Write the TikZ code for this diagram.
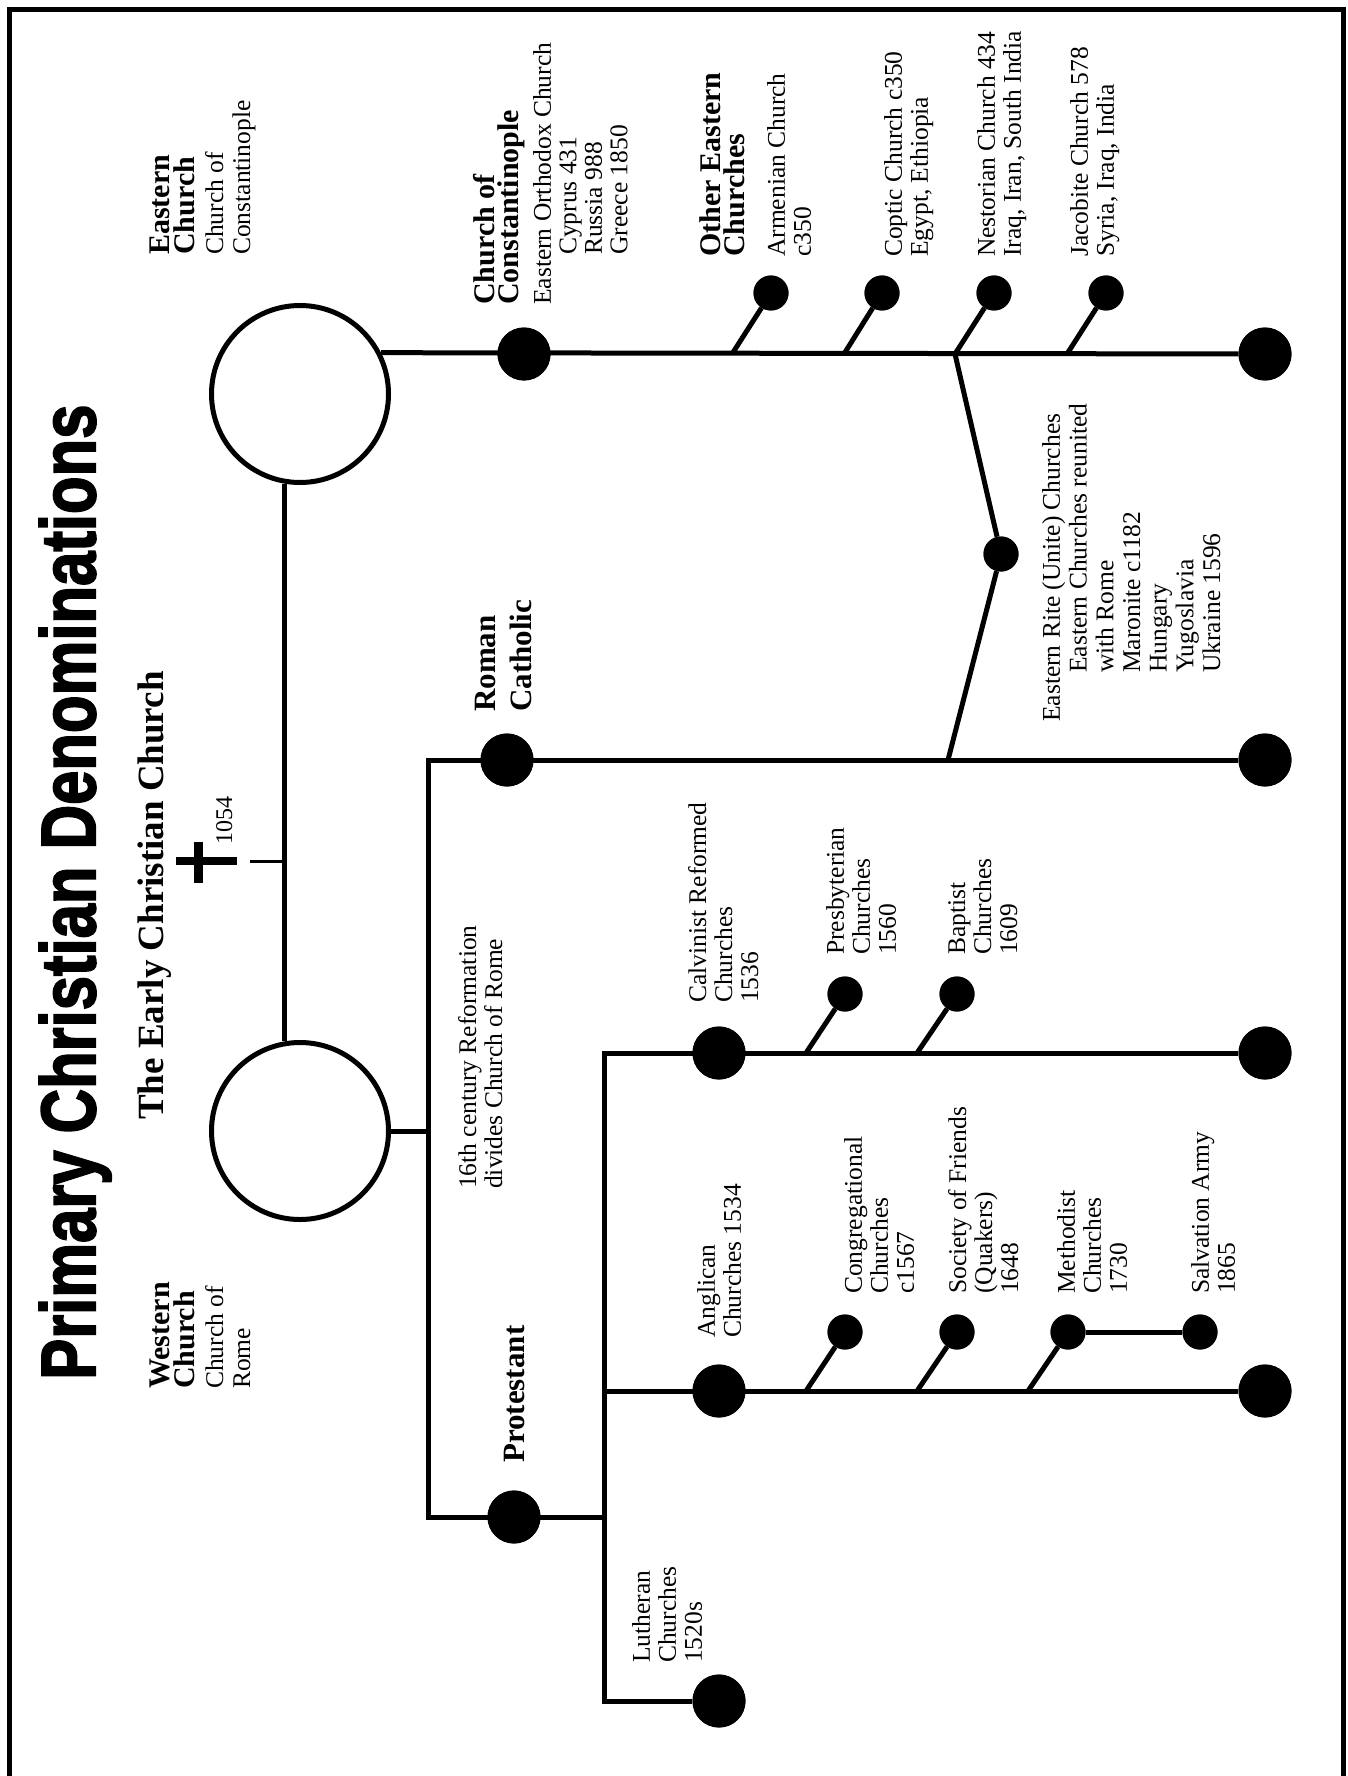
\documentclass[tikz,border=0pt]{standalone}
\usepackage{fontspec}
\setmainfont{Liberation Serif}
\newfontfamily\titlefont{Liberation Sans Bold}[FakeBold=2.5]
\usepackage{graphicx}
\begin{document}
\begin{tikzpicture}[x=1pt,y=-1pt,
  ln/.style={line width=5pt, line join=miter},
  bigdot/.style={circle, fill=black, inner sep=0pt, minimum size=53pt},
  smalldot/.style={circle, fill=black, inner sep=0pt, minimum size=35pt},
  hub/.style={circle, draw=black, line width=5pt, fill=white, inner sep=0pt, minimum size=177pt},
  txt/.style={rotate=90, anchor=north west, inner sep=0pt, align=left, font=\fontsize{25.5}{26}\selectfont},
  btxt/.style={rotate=90, anchor=north west, inner sep=0pt, align=left, font=\bfseries\fontsize{30}{24.5}\selectfont}]
\useasboundingbox (0,0) rectangle (1348,1776);
\fill[white] (0,0) rectangle (1348,1776);
% frame
\draw[line width=5pt] (9.5,1800) -- (9.5,9.5) -- (1343,9.5) -- (1343,1800);

% title
\node[rotate=90, anchor=north west, inner sep=0pt] (title) at (39,1380)
  {\resizebox{975pt}{56pt}{\titlefont Primary Christian Denominations}};
\node[btxt, font=\bfseries\fontsize{37}{30}\selectfont] (early) at (138,1120) {The Early Christian Church};

% hubs
\node[hub] (east) at (300,394) {};
\node[hub] (west) at (300,1131) {};

% big dots
\node[bigdot] (coc) at (524,354) {};
\node[bigdot] (eend) at (1265,354) {};
\node[bigdot] (rc) at (507,760) {};
\node[bigdot] (rcend) at (1265,760) {};
\node[bigdot] (prot) at (514,1517) {};
\node[bigdot] (calv) at (719,1053) {};
\node[bigdot] (calvend) at (1265,1053) {};
\node[bigdot] (angl) at (719,1391) {};
\node[bigdot] (anglend) at (1265,1391) {};
\node[bigdot] (luth) at (719,1701) {};

% small dots
\node[smalldot] (arm) at (771,293) {};
\node[smalldot] (copt) at (882,293) {};
\node[smalldot] (nest) at (994,293) {};
\node[smalldot] (jac) at (1106,293) {};
\node[smalldot] (erite) at (1001,554) {};
\node[smalldot] (pres) at (845,994) {};
\node[smalldot] (bapt) at (957,994) {};
\node[smalldot] (cong) at (845,1332) {};
\node[smalldot] (quak) at (957,1332) {};
\node[smalldot] (meth) at (1068,1332) {};
\node[smalldot] (salv) at (1200,1332) {};

% junction coordinates
\coordinate (armb) at (732,354);
\coordinate (coptb) at (844,354);
\coordinate (nestb) at (955,354);
\coordinate (jacb) at (1067,354);
\coordinate (eritb) at (948,760);
\coordinate (rccorner) at (428,760);
\coordinate (wj) at (428,1131);
\coordinate (protcorner) at (428,1517);
\coordinate (pj) at (604,1517);
\coordinate (calvcorner) at (604,1053);
\coordinate (anglj) at (604,1391);
\coordinate (luthcorner) at (604,1701);
\coordinate (presb) at (806,1053);
\coordinate (baptb) at (917,1053);
\coordinate (congb) at (806,1391);
\coordinate (quakb) at (917,1391);
\coordinate (methb) at (1028,1391);
\coordinate (tick) at (250,861);

% connectors
\draw[ln] (east.260) -- (west.100);
\draw[line width=3pt] (tick) -- (tick -| east.260);
\draw[ln] (east.27) -- (eend);
\draw[ln] (armb) -- (arm);
\draw[ln] (coptb) -- (copt);
\draw[ln] (nestb) -- (nest);
\draw[ln] (jacb) -- (jac);
\draw[ln] (nestb) -- (erite) -- (eritb);
\draw[ln] (west.east) -- (wj);
\draw[ln] (rcend) -- (rccorner) -- (protcorner) -- (pj);
\draw[ln] (calvend) -- (calvcorner) -- (luthcorner) -- (luth);
\draw[ln] (anglj) -- (anglend);
\draw[ln] (presb) -- (pres);
\draw[ln] (baptb) -- (bapt);
\draw[ln] (congb) -- (cong);
\draw[ln] (quakb) -- (quak);
\draw[ln] (methb) -- (meth);
\draw[ln] (meth) -- (salv);

% redraw dots on top
\foreach \n in {coc,eend,rc,rcend,prot,calv,calvend,angl,anglend,luth}
  \fill (\n) circle (26.5pt);
\foreach \n in {arm,copt,nest,jac,erite,pres,bapt,cong,quak,meth,salv}
  \fill (\n) circle (17.5pt);

% cross
\fill (176,857) rectangle (237,865);
\fill (194,842) rectangle (203,883);
\node[txt, font=\fontsize{24}{24}\selectfont] (y1054) at (216,845) {1054};

% texts
\node[btxt] (tEastB) at (150,255) {Eastern\\Church};
\node[txt, font=\fontsize{25.5}{27}\selectfont] (tEastR) at (205,255) {Church of\\Constantinople};
\node[btxt] (tWestB) at (150,1389) {Western\\Church};
\node[txt, font=\fontsize{25.5}{27}\selectfont] (tWestR) at (205,1389) {Church of\\Rome};

\node[btxt] (tCocB) at (473,305) {Church of\\Constantinople};
\node[txt, font=\fontsize{25.5}{25.5}\selectfont] (tCocR) at (533,305) {Eastern Orthodox Church\\\hspace*{50pt}Cyprus 431\\\hspace*{50pt}Russia 988\\\hspace*{50pt}Greece 1850};

\node[btxt] (tOther) at (699,257) {Other Eastern\\Churches};
\node[txt] (tArm) at (767,257) {Armenian Church\\c350};
\node[txt] (tCopt) at (884,257) {Coptic Church c350\\Egypt, Ethiopia};
\node[txt] (tNest) at (977,257) {Nestorian Church 434\\Iraq, Iran, South India};
\node[txt] (tJac) at (1070,257) {Jacobite Church 578\\Syria, Iraq, India};

\node[btxt, font=\bfseries\fontsize{31}{36}\selectfont] (tRC) at (475,712) {Roman\\Catholic};
\node[txt, font=\fontsize{25.5}{26.7}\selectfont] (tErite) at (1042,722) {Eastern Rite (Unite) Churches\\\hspace*{49pt}Eastern Churches reunited\\\hspace*{49pt}with Rome\\\hspace*{49pt}Maronite c1182\\\hspace*{49pt}Hungary\\\hspace*{49pt}Yugoslavia\\\hspace*{49pt}Ukraine 1596};

\node[txt] (tRef) at (458,1189) {16th century Reformation\\divides Church of Rome};
\node[btxt, font=\bfseries\fontsize{31}{36}\selectfont] (tProt) at (504,1463) {Protestant};

\node[txt] (tCalv) at (688,1003) {Calvinist Reformed\\Churches\\1536};
\node[txt] (tPres) at (826,955) {Presbyterian\\Churches\\1560};
\node[txt] (tBapt) at (948,955) {Baptist\\Churches\\1609};

\node[txt] (tAngl) at (697,1338) {Anglican\\Churches 1534};
\node[txt] (tCong) at (844,1294) {Congregational\\Churches\\c1567};
\node[txt] (tQuak) at (948,1294) {Society of Friends\\(Quakers)\\1648};
\node[txt] (tMeth) at (1057,1294) {Methodist\\Churches\\1730};
\node[txt] (tSalv) at (1191,1294) {Salvation Army\\1865};
\node[txt] (tLuth) at (632,1663) {Lutheran\\Churches\\1520s};
\end{tikzpicture}
\end{document}
